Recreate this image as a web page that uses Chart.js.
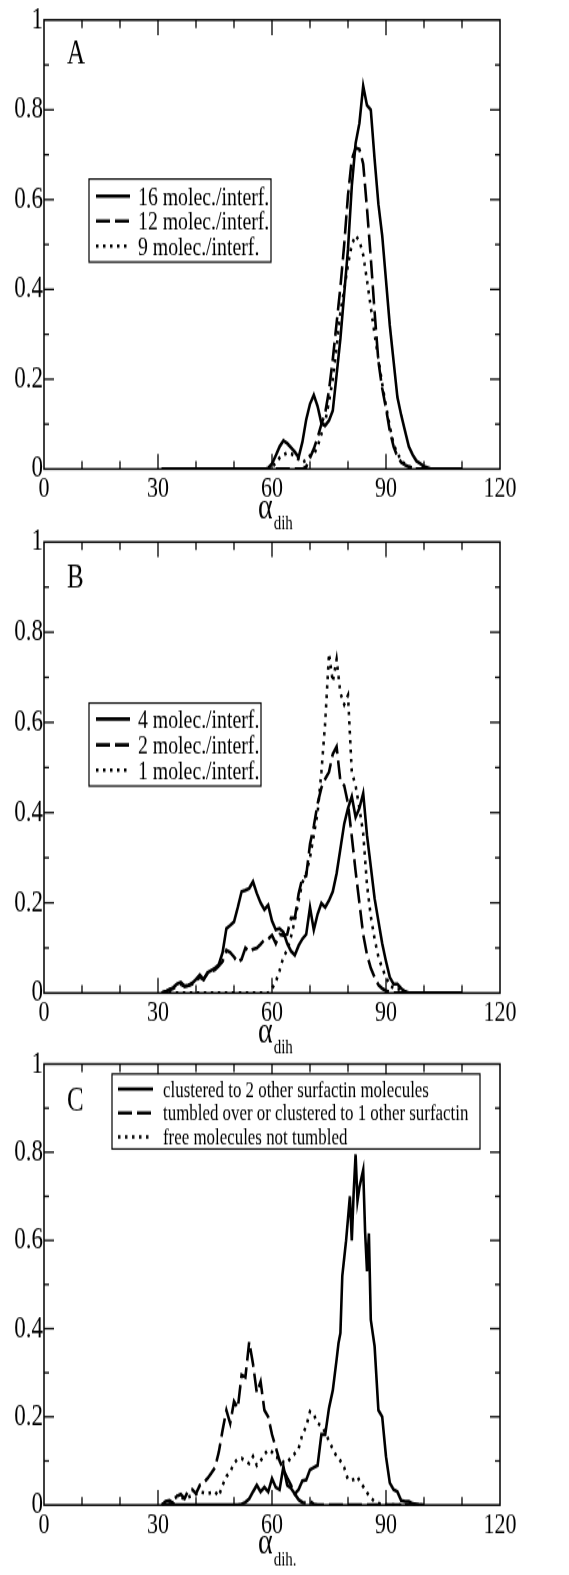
<!DOCTYPE html>
<html>
<head>
<meta charset="utf-8">
<script src="https://cdn.jsdelivr.net/npm/chart.js@4/dist/chart.umd.min.js"></script>
<style>
  html, body { margin: 0; padding: 0; background: #fff; }
  body { width: 569px; height: 1575px; position: relative; overflow: hidden; }
  canvas { position: absolute; left: 0; }
</style>
</head>
<body>
<canvas id="panelA"></canvas>
<canvas id="panelB"></canvas>
<canvas id="panelC"></canvas>
<script>
// ---- data ----
// panel A and B: angle bins 31..110
const anglesAB = [31, 32, 33, 34, 35, 36, 37, 38, 39, 40, 41, 42, 43, 44, 45, 46, 47, 48, 49, 50,
  51, 52, 53, 54, 55, 56, 57, 58, 59, 60, 61, 62, 63, 64, 65, 66, 67, 68, 69, 70,
  71, 72, 73, 74, 75, 76, 77, 78, 79, 80, 81, 82, 83, 84, 85, 86, 87, 88, 89, 90,
  91, 92, 93, 94, 95, 96, 97, 98, 99, 100, 101, 102, 103, 104, 105, 106, 107, 108, 109, 110];

const a16 = [0, 0, 0, 0, 0, 0, 0, 0, 0, 0, 0, 0, 0, 0, 0, 0, 0, 0, 0, 0,
  0, 0, 0, 0, 0, 0, 0, 0, 0.002, 0.012, 0.03, 0.05, 0.063, 0.057, 0.048, 0.038, 0.026, 0.06, 0.11, 0.145,
  0.165, 0.14, 0.102, 0.097, 0.108, 0.13, 0.21, 0.29, 0.39, 0.49, 0.63, 0.725, 0.77, 0.853, 0.81, 0.8, 0.69, 0.59, 0.52, 0.42,
  0.32, 0.24, 0.16, 0.12, 0.085, 0.05, 0.032, 0.018, 0.012, 0.006, 0.003, 0, 0, 0, 0, 0, 0, 0, 0, 0];
const a12 = [0, 0, 0, 0, 0, 0, 0, 0, 0, 0, 0, 0, 0, 0, 0, 0, 0, 0, 0, 0,
  0, 0, 0, 0, 0, 0, 0, 0, 0, 0, 0, 0, 0, 0, 0, 0, 0, 0, 0.005, 0.025,
  0.045, 0.07, 0.1, 0.125, 0.175, 0.245, 0.325, 0.405, 0.5, 0.61, 0.69, 0.715, 0.712, 0.68, 0.58, 0.47, 0.35, 0.24, 0.18, 0.135,
  0.085, 0.05, 0.028, 0.015, 0.009, 0.005, 0.002, 0, 0, 0, 0, 0, 0, 0, 0, 0, 0, 0, 0, 0];
const a9 = [0, 0, 0, 0, 0, 0, 0, 0, 0, 0, 0, 0, 0, 0, 0, 0, 0, 0, 0, 0,
  0, 0, 0, 0, 0, 0, 0, 0, 0, 0.005, 0.013, 0.025, 0.032, 0.036, 0.034, 0.03, 0.022, 0.015, 0.02, 0.03,
  0.033, 0.05, 0.078, 0.105, 0.15, 0.2, 0.27, 0.35, 0.4, 0.455, 0.5, 0.52, 0.508, 0.477, 0.42, 0.36, 0.3, 0.245, 0.19, 0.14,
  0.095, 0.055, 0.035, 0.02, 0.01, 0.005, 0.002, 0, 0, 0, 0, 0, 0, 0, 0, 0, 0, 0, 0, 0];

const b4 = [0, 0.003, 0.008, 0.012, 0.02, 0.024, 0.015, 0.017, 0.022, 0.03, 0.04, 0.03, 0.045, 0.05, 0.055, 0.063, 0.09, 0.143, 0.15, 0.158,
  0.19, 0.225, 0.228, 0.232, 0.247, 0.221, 0.2, 0.185, 0.195, 0.16, 0.14, 0.143, 0.135, 0.11, 0.093, 0.084, 0.105, 0.12, 0.13, 0.19,
  0.14, 0.175, 0.199, 0.19, 0.205, 0.225, 0.265, 0.32, 0.375, 0.41, 0.436, 0.39, 0.41, 0.443, 0.35, 0.28, 0.21, 0.16, 0.11, 0.07,
  0.035, 0.02, 0.02, 0.01, 0.003, 0, 0, 0, 0, 0, 0, 0, 0, 0, 0, 0, 0, 0, 0, 0];
const b2 = [0, 0.003, 0.007, 0.01, 0.015, 0.02, 0.015, 0.017, 0.02, 0.028, 0.035, 0.03, 0.043, 0.048, 0.052, 0.06, 0.07, 0.095, 0.09, 0.08,
  0.068, 0.075, 0.1, 0.092, 0.097, 0.1, 0.108, 0.118, 0.12, 0.128, 0.11, 0.13, 0.128, 0.13, 0.166, 0.166, 0.22, 0.255, 0.26, 0.33,
  0.37, 0.42, 0.455, 0.475, 0.49, 0.53, 0.546, 0.47, 0.46, 0.42, 0.347, 0.27, 0.2, 0.13, 0.085, 0.055, 0.035, 0.018, 0.01, 0.005,
  0.002, 0, 0, 0, 0, 0, 0, 0, 0, 0, 0, 0, 0, 0, 0, 0, 0, 0, 0, 0];
const b1 = [0, 0, 0, 0, 0, 0, 0, 0, 0, 0, 0, 0, 0, 0, 0, 0, 0, 0, 0, 0,
  0, 0, 0, 0, 0, 0, 0, 0, 0, 0.01, 0.025, 0.05, 0.08, 0.095, 0.125, 0.16, 0.205, 0.245, 0.265, 0.3,
  0.35, 0.4, 0.49, 0.6, 0.753, 0.69, 0.74, 0.665, 0.64, 0.66, 0.49, 0.46, 0.41, 0.354, 0.24, 0.17, 0.12, 0.08, 0.055, 0.035,
  0.018, 0.01, 0.008, 0.01, 0.003, 0, 0, 0, 0, 0, 0, 0, 0, 0, 0, 0, 0, 0, 0, 0];

// panel C: finer bins around the main peak
const anglesC = [31, 32, 33, 34, 35, 36, 37, 38, 39, 40, 41, 42, 43, 44, 45, 46, 47, 48, 49, 50,
  51, 52, 53, 54, 55, 56, 57, 58, 59, 60, 61, 62, 63, 64, 65, 66, 67, 68, 69, 70,
  71, 72, 73, 74, 75, 76, 77, 77.5, 78, 78.5, 79, 79.5, 80, 80.5, 81, 81.5, 82, 82.5, 83, 83.5,
  84, 84.5, 85, 85.5, 86, 86.5, 87, 88, 89, 90, 91, 92, 93, 94, 95, 96, 97, 98, 99, 100];
const cClustered = [0, 0, 0, 0, 0, 0, 0, 0, 0, 0, 0, 0, 0, 0, 0, 0, 0, 0, 0, 0,
  0, 0.002, 0.006, 0.014, 0.03, 0.045, 0.03, 0.04, 0.03, 0.06, 0.04, 0.035, 0.087, 0.045, 0.038, 0.025, 0.035, 0.055, 0.057, 0.08,
  0.085, 0.09, 0.16, 0.16, 0.22, 0.26, 0.33, 0.367, 0.39, 0.52, 0.56, 0.6, 0.65, 0.7, 0.6, 0.71, 0.795, 0.69, 0.72, 0.74,
  0.76, 0.62, 0.53, 0.616, 0.42, 0.39, 0.36, 0.215, 0.2, 0.11, 0.05, 0.035, 0.03, 0.01, 0.008, 0.008, 0.003, 0.002, 0, 0];
const cTumbled = [0, 0.008, 0.01, 0.004, 0.02, 0.024, 0.015, 0.033, 0.035, 0.026, 0.045, 0.05, 0.06, 0.072, 0.085, 0.12, 0.17, 0.215, 0.185, 0.235,
  0.22, 0.295, 0.29, 0.37, 0.32, 0.255, 0.28, 0.215, 0.2, 0.16, 0.13, 0.1, 0.08, 0.062, 0.045, 0.025, 0.012, 0.006, 0.004, 0.008,
  0.002, 0, 0, 0, 0, 0, 0, 0, 0, 0, 0, 0, 0, 0, 0, 0, 0, 0, 0, 0,
  0, 0, 0, 0, 0, 0, 0, 0, 0, 0, 0, 0, 0, 0, 0, 0, 0, 0, 0, 0];
const cFree = [0, 0.004, 0.008, 0.014, 0.019, 0.017, 0.015, 0.018, 0.022, 0.025, 0.03, 0.028, 0.026, 0.028, 0.03, 0.02, 0.045, 0.065, 0.075, 0.095,
  0.104, 0.106, 0.1, 0.094, 0.11, 0.09, 0.1, 0.115, 0.125, 0.12, 0.108, 0.106, 0.097, 0.096, 0.108, 0.117, 0.128, 0.16, 0.178, 0.212,
  0.205, 0.185, 0.18, 0.165, 0.145, 0.127, 0.11, 0.106, 0.1, 0.093, 0.085, 0.07, 0.058, 0.057, 0.057, 0.058, 0.06, 0.064, 0.055, 0.048,
  0.042, 0.035, 0.028, 0.022, 0.016, 0.012, 0.008, 0.004, 0.001, 0, 0, 0, 0, 0, 0, 0, 0, 0, 0, 0];

const xMajorTicks = [30, 60, 90];
const xMinorTicks = [10, 20, 40, 50, 70, 80, 100, 110];
const yMajorTicks = [0.2, 0.4, 0.6, 0.8];
const yMinorTicks = [0.1, 0.3, 0.5, 0.7, 0.9];

// ---- drawing ----
const S = 1.35;          // the original figure is stretched vertically
const W = 569, CH = 540; // display size of each panel canvas
const SERIF = '"Liberation Serif", "Times New Roman", serif';
const SOLID = [], DASHED = [14, 5], DOTTED = [2.5, 4.5];

function line(ctx, x1, y1, x2, y2) {
  ctx.beginPath(); ctx.moveTo(x1, y1); ctx.lineTo(x2, y2); ctx.stroke();
}

function makePanel(p) {
  const cv = document.getElementById(p.id);
  cv.width = W;
  cv.height = Math.round(CH / S);
  cv.style.width = W + 'px';
  cv.style.height = CH + 'px';
  cv.style.top = p.canvasTop + 'px';
  const toC = v => (v - p.canvasTop) / S;

  const decor = {
    id: 'decor' + p.letter,
    afterDraw(chart) {
      const { ctx, chartArea: a, scales: { x, y } } = chart;
      ctx.save();
      ctx.strokeStyle = '#000';
      ctx.fillStyle = '#000';
      ctx.lineWidth = 1.5;
      ctx.strokeRect(a.left, a.top, a.right - a.left, a.bottom - a.top);

      // inward ticks on all four sides
      ctx.lineWidth = 1.3;
      xMajorTicks.concat(xMinorTicks).forEach(v => {
        const px = x.getPixelForValue(v);
        const len = (xMajorTicks.includes(v) ? 15 : 8) / S;
        line(ctx, px, a.bottom, px, a.bottom - len);
        line(ctx, px, a.top, px, a.top + len);
      });
      yMajorTicks.concat(yMinorTicks).forEach(v => {
        const py = y.getPixelForValue(v);
        const len = yMajorTicks.includes(v) ? 10 : 5;
        line(ctx, a.left, py, a.left + len, py);
        line(ctx, a.right, py, a.right - len, py);
      });

      // panel letter
      ctx.font = '25px ' + SERIF;
      ctx.textBaseline = 'alphabetic';
      ctx.fillText(p.letter, 67, toC(p.plotTop + 46));

      // axis title: alpha with subscript
      const xc = (a.left + a.right) / 2;
      ctx.font = '28px ' + SERIF;
      ctx.fillText('α', xc - 14, toC(p.plotBottom + 49));
      const aw = ctx.measureText('α').width;
      ctx.font = '15px ' + SERIF;
      ctx.fillText(p.sub, xc - 14 + aw + 1, toC(p.plotBottom + 60));

      // legend box
      const lg = p.legend;
      const top = toC(lg.y1), bot = toC(lg.y2);
      ctx.fillStyle = '#fff';
      ctx.fillRect(lg.x1, top, lg.x2 - lg.x1, bot - top);
      ctx.lineWidth = 1.2;
      ctx.strokeRect(lg.x1, top, lg.x2 - lg.x1, bot - top);
      ctx.fillStyle = '#000';
      ctx.font = lg.font + 'px ' + SERIF;
      chart.data.datasets.forEach((ds, i) => {
        const yy = toC(lg.rows[i]);
        ctx.lineWidth = ds.borderWidth;
        ctx.setLineDash(ds.borderDash);
        line(ctx, lg.sx1, yy, lg.sx2, yy);
        ctx.setLineDash([]);
        ctx.fillText(ds.label, lg.tx, yy + lg.font * 0.33);
      });
      ctx.restore();
    }
  };

  new Chart(cv, {
    type: 'line',
    data: {
      datasets: p.series.map(s => ({
        label: s.label,
        data: p.angles.map((ang, i) => ({ x: ang, y: s.values[i] })),
        borderColor: '#000',
        borderWidth: 2.6,
        borderDash: s.dash,
        pointRadius: 0,
        fill: false,
        tension: 0
      }))
    },
    options: {
      responsive: false,
      devicePixelRatio: 1,
      animation: false,
      layout: { padding: { top: toC(p.plotTop), right: W - 500, left: 0, bottom: 0 } },
      scales: {
        x: {
          type: 'linear', min: 0, max: 120,
          grid: { display: false, drawTicks: false },
          border: { display: false },
          ticks: { stepSize: 30, padding: 2, color: '#000', maxRotation: 0, autoSkip: false,
                   font: { family: SERIF, size: 22 } },
          afterFit: s => { s.height = (p.canvasTop + CH - p.plotBottom) / S; }
        },
        y: {
          min: 0, max: 1,
          grid: { display: false, drawTicks: false },
          border: { display: false },
          ticks: { stepSize: 0.2, padding: 1, color: '#000', font: { family: SERIF, size: 23 },
                   callback: v => String(Math.round(v * 10) / 10) },
          afterFit: s => { s.width = 44; }
        }
      },
      plugins: { legend: { display: false }, tooltip: { enabled: false } }
    },
    plugins: [decor]
  });
}

makePanel({
  id: 'panelA', letter: 'A', sub: 'dih', canvasTop: 0, plotTop: 17, plotBottom: 469,
  angles: anglesAB,
  series: [
    { label: '16 molec./interf.', values: a16, dash: SOLID },
    { label: '12 molec./interf.', values: a12, dash: DASHED },
    { label: '9 molec./interf.', values: a9, dash: DOTTED }
  ],
  legend: { x1: 89, x2: 271, y1: 179, y2: 262, rows: [196, 221, 246], sx1: 96, sx2: 130, tx: 138, font: 19.8 }
});

makePanel({
  id: 'panelB', letter: 'B', sub: 'dih', canvasTop: 520, plotTop: 542, plotBottom: 993,
  angles: anglesAB,
  series: [
    { label: '4 molec./interf.', values: b4, dash: SOLID },
    { label: '2 molec./interf.', values: b2, dash: DASHED },
    { label: '1 molec./interf.', values: b1, dash: DOTTED }
  ],
  legend: { x1: 89, x2: 261, y1: 703, y2: 786, rows: [719, 745, 770], sx1: 96, sx2: 130, tx: 138, font: 19.8 }
});

makePanel({
  id: 'panelC', letter: 'C', sub: 'dih.', canvasTop: 1035, plotTop: 1064, plotBottom: 1505,
  angles: anglesC,
  series: [
    { label: 'clustered to 2 other surfactin molecules', values: cClustered, dash: SOLID },
    { label: 'tumbled over or clustered to 1 other surfactin', values: cTumbled, dash: DASHED },
    { label: 'free molecules not tumbled', values: cFree, dash: DOTTED }
  ],
  legend: { x1: 112, x2: 480, y1: 1074, y2: 1149, rows: [1089, 1113, 1137], sx1: 118, sx2: 153, tx: 163, font: 16.9 }
});
</script>
</body>
</html>
